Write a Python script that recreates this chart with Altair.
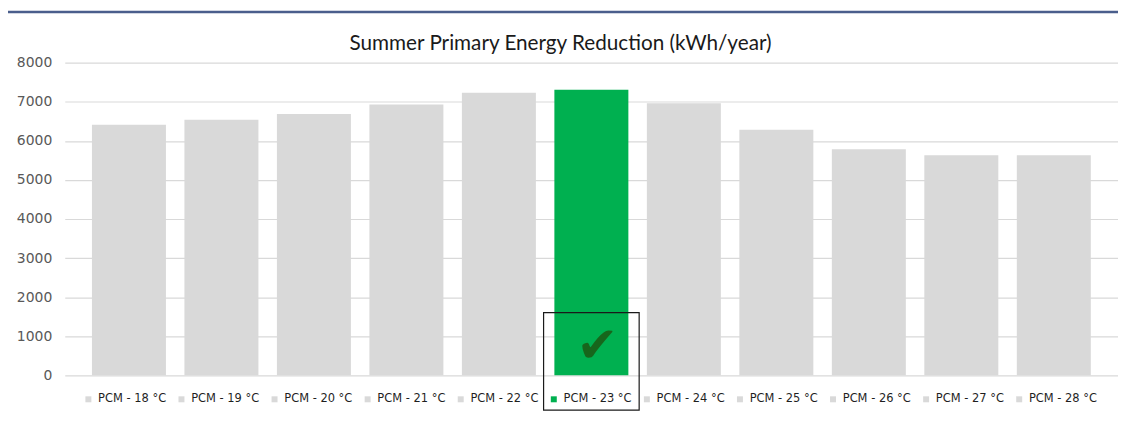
import altair as alt
import pandas as pd

categories = ["PCM - 18 °C", "PCM - 19 °C", "PCM - 20 °C", "PCM - 21 °C",
              "PCM - 22 °C", "PCM - 23 °C", "PCM - 24 °C", "PCM - 25 °C",
              "PCM - 26 °C", "PCM - 27 °C", "PCM - 28 °C"]
values = [6410, 6540, 6690, 6930, 7230, 7305, 6965, 6285, 5785, 5630, 5630]
bar_colors = ["#d9d9d9", "#d9d9d9", "#d9d9d9", "#d9d9d9", "#d9d9d9", "#00b050",
              "#d9d9d9", "#d9d9d9", "#d9d9d9", "#d9d9d9", "#d9d9d9"]
y_ticks = [0, 1000, 2000, 3000, 4000, 5000, 6000, 7000, 8000]
highlight = ["PCM - 23 °C"]
box_top = [1605]
box_bottom = [-892]
check_level = [800]
title_text = ["Summer Primary Energy Reduction (kWh/year)"]

df = pd.DataFrame({"category": categories, "value": values})
box_df = pd.DataFrame({"category": highlight, "top": box_top, "bottom": box_bottom})
check_df = pd.DataFrame({"category": highlight, "level": check_level, "mark": ["✔"]})
title_df = pd.DataFrame({"t": title_text})

y_scale = alt.Scale(domain=[0, 8000], nice=False)
y_axis = alt.Axis(values=y_ticks, tickCount=9, format="d", labelOverlap=False,
                  grid=True, gridColor="#d9d9d9", gridWidth=1.2,
                  domain=False, ticks=False, labelPadding=13,
                  labelFont="DejaVu Sans", labelFontSize=14, labelColor="#595959")

x_enc = alt.X("category:N", sort=categories,
              scale=alt.Scale(domain=categories, paddingInner=0.2, paddingOuter=0.294),
              axis=None)

bars = alt.Chart(df).mark_bar().encode(
    x=x_enc,
    y=alt.Y("value:Q", title=None, scale=y_scale, axis=y_axis),
    color=alt.Color("category:N",
                    scale=alt.Scale(domain=categories, range=bar_colors),
                    legend=alt.Legend(title=None, orient="none", legendX=18, legendY=332,
                                      direction="horizontal", columns=11, gridAlign="all",
                                      symbolType="square", symbolSize=36, symbolStrokeWidth=0,
                                      labelFont="DejaVu Sans", labelFontSize=11.5,
                                      labelColor="#1f1f1f", labelOffset=4,
                                      columnPadding=9.5, padding=0)),
)

box = alt.Chart(box_df).mark_bar(filled=False, stroke="#1a1a1a", strokeWidth=1.2, width=96).encode(
    x=alt.X("category:N", sort=categories, axis=None),
    y=alt.Y("top:Q", title=None, scale=y_scale, axis=y_axis),
    y2=alt.Y2("bottom:Q"),
)

check = alt.Chart(check_df).mark_text(font="DejaVu Sans", fontSize=50, color="#17661c",
                                      baseline="middle", dx=6, dy=3).encode(
    x=alt.X("category:N", sort=categories, axis=None),
    y=alt.Y("level:Q", title=None, scale=y_scale, axis=y_axis),
    text="mark:N",
)

title = alt.Chart(title_df).mark_text(font="Lato", fontSize=20.8, color="#1a1a1a",
                                      align="center", baseline="alphabetic").encode(
    x=alt.value(498), y=alt.value(-13), text="t:N"
)

top_rule = alt.Chart(pd.DataFrame({"k": [0]})).mark_rule(color="#4a5e8c", strokeWidth=2.5).encode(
    x=alt.value(-58), x2=alt.value(1062), y=alt.value(-51)
)

chart = alt.layer(bars, box, check, title, top_rule).properties(
    width=1058, height=314,
    autosize=alt.AutoSizeParams(type="none"),
    padding={"left": 57, "top": 54, "right": 0, "bottom": 50},
).configure_view(stroke=None)

chart.save("out.html", embed_options={"renderer": "svg", "actions": False})
